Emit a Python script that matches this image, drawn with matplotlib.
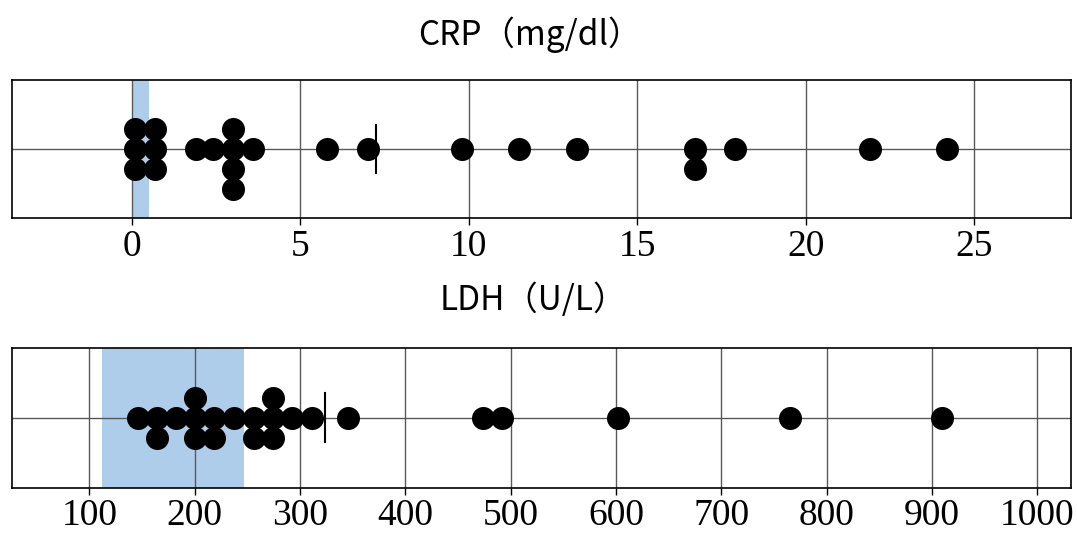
import numpy as np
import matplotlib
matplotlib.use("Agg")
import matplotlib.pyplot as plt

# values (one entry per patient)
crp_values = [0.1, 0.1, 0.1, 0.7, 0.7, 0.7, 1.9, 2.4, 3.0, 3.0, 3.0, 3.0, 3.6,
              5.8, 7.0, 9.8, 11.5, 13.2, 16.7, 16.7, 17.9, 21.9, 24.2]
ldh_values = [146, 164, 164, 182, 200, 200, 200, 218, 218, 237, 256, 256,
              274, 274, 274, 292, 311, 346, 474, 492, 602, 765, 910]
crp_ref = (0, 0.5)
ldh_ref = (112, 247)
crp_ticks = [0, 5, 10, 15, 20, 25]
ldh_ticks = [100, 200, 300, 400, 500, 600, 700, 800, 900, 1000]
titles = ["CRP（mg/dl）", "LDH（U/L）"]

W, H = 1077, 533
fig = plt.figure(figsize=(W / 100, H / 100), dpi=100)

step = 0.29           # vertical spacing of stacked dots (data units)
order = [0, -1, 1, -2, 2]


def stacked(values):
    xs, ys = [], []
    vals, counts = np.unique(values, return_counts=True)
    for v, c in zip(vals, counts):
        for k in range(c):
            xs.append(v)
            ys.append(order[k] * step)
    return xs, ys


def panel(rect, values, ref, ticks, xlim):
    ax = fig.add_axes(rect)
    ax.set_axisbelow(True)
    ax.axvspan(ref[0], ref[1], color="#aecdea", lw=0, zorder=0.2)
    xs, ys = stacked(values)
    ax.scatter(xs, ys, s=275, color="black", lw=0, zorder=3)
    m = np.mean(values)
    ax.plot([m, m], [-0.35, 0.35], color="black", lw=1.5, zorder=4)
    ax.set_xlim(*xlim)
    ax.set_ylim(-1, 1)
    ax.set_xticks(ticks)
    ax.set_yticks([0])
    ax.grid(True, color="0.35", lw=1)
    ax.tick_params(axis="y", length=0, labelleft=False)
    ax.tick_params(axis="x", length=5, width=1, pad=3, labelsize=27)
    for lab in ax.get_xticklabels():
        lab.set_fontfamily("Liberation Serif")
    for sp in ax.spines.values():
        sp.set_linewidth(1.2)
    return ax


left = 12 / W
width = (1071 - 12) / W
panel([left, 1 - 218 / H, width, 138 / H], crp_values, crp_ref, crp_ticks, (-3.55, 27.87))
panel([left, 1 - 487.5 / H, width, 139.5 / H], ldh_values, ldh_ref, ldh_ticks, (26.6, 1032))

fig.text(530 / W, 1 - 35 / H, titles[0], ha="center", va="center", fontsize=24,
         family=["Noto Sans CJK JP", "DejaVu Sans"])
fig.text(533 / W, 1 - 300 / H, titles[1], ha="center", va="center", fontsize=24,
         family=["Noto Sans CJK JP", "DejaVu Sans"])

fig.savefig("out.png", dpi=100)
